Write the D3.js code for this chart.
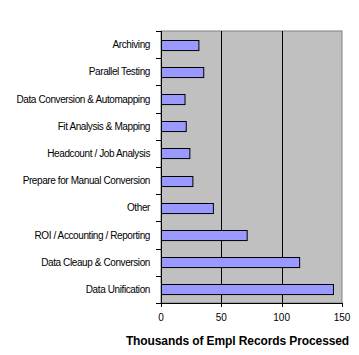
<!DOCTYPE html>
<html><head><meta charset="utf-8">
<script src="https://cdn.jsdelivr.net/npm/d3@7/dist/d3.min.js"></script>
<style>body{margin:0;background:#fff}svg{display:block}text{font-family:"Liberation Sans",Arial,sans-serif}</style>
</head><body><div id="chart"></div>
<script>
const categories = ["Archiving","Parallel Testing","Data Conversion & Automapping","Fit Analysis & Mapping","Headcount / Job Analysis","Prepare for Manual Conversion","Other","ROI / Accounting / Reporting","Data Cleaup & Conversion","Data Unification"];
const values = [31, 35, 19.5, 20.5, 23.5, 26, 43, 71, 114.5, 142.5];
const xTicks = [0, 50, 100, 150];
const xTitle = "Thousands of Empl Records Processed";

const W = 359, H = 355;
const m = {left:161, right:17, top:31, bottom:52};
const svg = d3.select("#chart").append("svg").attr("width",W).attr("height",H);
const x = d3.scaleLinear().domain([0,150]).range([m.left, W-m.right]);
const y = d3.scaleBand().domain(categories).range([m.top, H-m.bottom]).paddingInner(0.63).paddingOuter(0.315);
const yb = d3.scaleBand().domain(categories).range([m.top, H-m.bottom]);

svg.append("rect").attr("x",x(0)).attr("y",m.top).attr("width",x(150)-x(0)).attr("height",H-m.bottom-m.top)
  .attr("fill","#c0c0c0").attr("stroke","#808080").attr("stroke-width",1);

svg.selectAll("line.grid").data(xTicks.filter(d=>d>0 && d<150)).join("line")
  .attr("x1",d=>Math.round(x(d))+0.5).attr("x2",d=>Math.round(x(d))+0.5)
  .attr("y1",m.top).attr("y2",H-m.bottom).attr("stroke","#000");

svg.selectAll("rect.bar").data(values).join("rect")
  .attr("x",x(0)+0.5).attr("y",(d,i)=>Math.round(y(categories[i]))+0.5)
  .attr("width",d=>x(d)-x(0)).attr("height",y.bandwidth())
  .attr("fill","#9999ff").attr("stroke","#000").attr("stroke-width",1);

// left axis
const gl = svg.append("g");
gl.append("line").attr("x1",x(0)+0.5).attr("x2",x(0)+0.5).attr("y1",m.top).attr("y2",H-m.bottom+4).attr("stroke","#000");
const bounds = categories.map(c=>yb(c)).concat([H-m.bottom]);
gl.selectAll("line.t").data(bounds).join("line")
  .attr("x1",x(0)-5).attr("x2",x(0)).attr("y1",d=>Math.round(d)+0.5).attr("y2",d=>Math.round(d)+0.5).attr("stroke","#000");
gl.selectAll("text").data(categories).join("text")
  .attr("x",150).attr("y",d=>yb(d)+yb.bandwidth()/2).attr("dy","0.35em")
  .attr("text-anchor","end").attr("font-size",10).attr("letter-spacing","-0.4px").text(d=>d);

// bottom axis
const gb = svg.append("g");
gb.append("line").attr("x1",x(0)).attr("x2",x(150)+1).attr("y1",H-m.bottom+0.5).attr("y2",H-m.bottom+0.5).attr("stroke","#000");
gb.selectAll("line.t").data(xTicks).join("line")
  .attr("x1",d=>Math.round(x(d))+0.5).attr("x2",d=>Math.round(x(d))+0.5)
  .attr("y1",H-m.bottom).attr("y2",H-m.bottom+4).attr("stroke","#000");
gb.selectAll("text").data(xTicks).join("text")
  .attr("x",d=>x(d)).attr("y",317).attr("dy","0.35em").attr("text-anchor","middle").attr("font-size",10).text(d=>d);

svg.append("text").attr("x",237.5).attr("y",340.5).attr("dy","0.35em").attr("text-anchor","middle")
  .attr("font-size",12).attr("font-weight","bold").attr("letter-spacing","-0.1px").text(xTitle);
</script></body></html>
